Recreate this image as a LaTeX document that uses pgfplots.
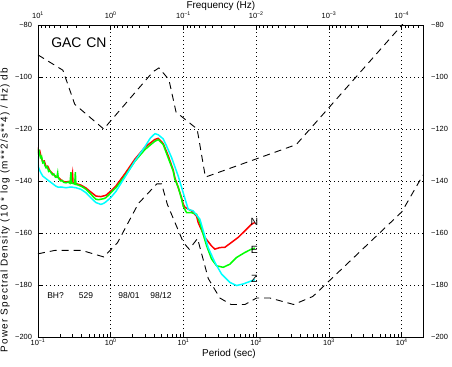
\documentclass[border=0pt]{standalone}
\usepackage{fontspec}
\setmainfont{Liberation Sans}
\newfontfamily\ylfont[LetterSpace=12]{Liberation Sans}
\usepackage{pgfplots}
\pgfplotsset{compat=1.18}
\definecolor{nred}{RGB}{255,0,0}
\definecolor{egreen}{RGB}{0,255,0}
\definecolor{zcyan}{RGB}{0,255,255}

\begin{document}
\begin{tikzpicture}
\path[use as bounding box] (-38bp,-30bp) rectangle (414bp,337bp);
\begin{axis}[
  at={(0,0)}, anchor=south west,
  scale only axis, width=385bp, height=312bp,
  xmode=log, xmin=0.1, xmax=19600, ymin=-200, ymax=-80,
  xtick={0.1,1,10,100,1000,10000},
  xticklabels={10\textsuperscript{−1},10\textsuperscript{0},10\textsuperscript{1},10\textsuperscript{2},10\textsuperscript{3},10\textsuperscript{4}},
  minor xtick={0.2,0.3,0.4,0.5,0.6,0.7,0.8,0.9,2,3,4,5,6,7,8,9,20,30,40,50,60,70,80,90,200,300,400,500,600,700,800,900,2000,3000,4000,5000,6000,7000,8000,9000},
  ytick={-200,-180,-160,-140,-120,-100,-80},
  yticklabels={−200,−180,−160,−140,−120,−100,−80},
  xtick pos=left, ytick pos=left,
  tick align=inside,
  major tick length=5bp, minor tick length=3bp,
  tick style={black, line width=0.6bp},
  grid=major,
  major grid style={black, line width=0.8bp, dash pattern=on 1bp off 3bp},
  axis line style={black, line width=0.8bp},
  tick label style={font=\fontsize{7.5}{8.5}\selectfont},
  xticklabel style={yshift=1.5bp},
  yticklabel style={xshift=-2.5bp},
  xlabel={Period (sec)},
  xlabel style={at={(axis description cs:0.496,0)}, anchor=center, yshift=-17bp, font=\fontsize{10}{12}\selectfont},
  ylabel={Power Spectral Density (10 * log (m**2/s**4) / Hz) db},
  ylabel style={at={(axis description cs:-0.0857,0.407)}, anchor=center, font=\ylfont\fontsize{10}{12}\selectfont},
  dashmodel/.style={black, line width=0.9bp, dash pattern=on 7bp off 5bp},
]
% New High Noise Model
\addplot[dashmodel] coordinates {
(0.1,-91.5) (0.22,-97.4) (0.32,-110.5) (0.8,-120.0) (3.8,-98.0) (4.6,-96.5)
(6.3,-101.0) (7.9,-113.5) (15.4,-120.0) (20,-138.5) (354.8,-126.0) (10000,-80.1) (19600,-70.7)
};
% New Low Noise Model
\addplot[dashmodel] coordinates {
(0.1,-168.0) (0.17,-166.7) (0.4,-166.7) (0.8,-169.2) (1.24,-163.7) (2.4,-148.65)
(4.3,-141.1) (5.0,-141.1) (6.0,-149.0) (10,-163.75) (12,-166.25) (15.6,-162.1)
(21.9,-177.5) (31.6,-185.0) (45,-187.5) (70,-187.5) (101,-185.0) (154,-185.0)
(328,-187.5) (600,-184.4) (10000,-151.9) (19600,-137.7)
};
% N (red)
\addplot[nred, line width=1.5bp] coordinates {
(0.1,-127.0) (0.102,-129.0) (0.106,-128.5) (0.11,-130.8) (0.116,-132.5) (0.122,-132.3)
(0.129,-134.5) (0.136,-134.3) (0.145,-136.0) (0.151,-136.5) (0.16,-137.3) (0.177,-138.3)
(0.19,-138.6) (0.207,-139.6) (0.225,-140.2) (0.2424,-140.4) (0.26,-140.2) (0.2839,-140.6)
(0.298,-137.0) (0.303,-140.6) (0.3326,-141.0) (0.3896,-141.6) (0.4563,-142.7) (0.5345,-144.3)
(0.626,-145.8) (0.7334,-146.0) (0.859,-145.5) (1.006,-143.8) (1.179,-141.9) (1.567,-137.2)
(2.149,-131.6) (2.95,-127.0) (4.047,-124.0) (4.493,-123.6) (5.262,-125.6) (6.164,-130.3)
(7.22,-135.8) (7.619,-138.8) (8.458,-142.5) (9.416,-146.5) (9.906,-148.8) (10.45,-150.1)
(12.92,-151.5) (15.13,-153.5) (15.92,-156.0) (19.68,-161.7) (24.32,-165.0) (27.0,-166.2)
(31.62,-165.6) (37.05,-165.5) (45.79,-163.6) (56.42,-161.7) (69.72,-159.2) (86.18,-156.6) (95.68,-156.0)
};
% E (green)
\addplot[egreen, line width=1.5bp] coordinates {
(0.1,-127.5) (0.102,-129.5) (0.104,-128.8) (0.108,-131.0) (0.112,-130.5) (0.116,-133.0)
(0.121,-132.6) (0.125,-134.2) (0.129,-134.9) (0.134,-134.5) (0.14,-136.3) (0.145,-136.0)
(0.151,-136.8) (0.158,-137.6) (0.165,-137.3) (0.172,-138.4) (0.177,-138.6) (0.182,-138.3)
(0.1865,-136.8) (0.19,-138.8) (0.198,-139.5) (0.207,-140.0) (0.215,-139.8) (0.225,-140.5)
(0.2424,-140.7) (0.26,-140.4) (0.275,-140.9) (0.2839,-136.6) (0.29,-140.8) (0.31,-141.0)
(0.32,-141.2) (0.326,-136.6) (0.332,-141.3) (0.36,-141.6) (0.3896,-142.0) (0.42,-142.5)
(0.4563,-143.2) (0.49,-144.0) (0.5345,-145.1) (0.58,-146.2) (0.626,-147.0) (0.68,-147.2)
(0.7334,-147.0) (0.80,-146.8) (0.859,-146.4) (0.93,-145.5) (1.006,-144.5) (1.08,-143.6)
(1.179,-142.6) (1.567,-138.1) (2.149,-132.4) (2.95,-127.9) (4.047,-124.7) (4.493,-124.1)
(5.262,-126.0) (6.164,-131.1) (7.22,-136.2) (7.619,-139.4) (8.458,-142.3) (9.416,-147.0)
(9.906,-149.7) (11.03,-152.2) (12.92,-152.2) (15.13,-152.8) (16.8,-156.0) (17.73,-158.5)
(20.77,-164.9) (24.32,-170.0) (28.5,-172.6) (35.11,-173.2) (43.39,-172.0) (53.63,-169.4)
(69.72,-167.5) (86.18,-166.2) (95.68,-165.8)
};
% Z (cyan)
\addplot[zcyan, line width=1.5bp] coordinates {
(0.1,-130.5) (0.101,-134.5) (0.104,-135.5) (0.108,-136.5) (0.116,-138.1) (0.125,-138.8)
(0.1416,-140.0) (0.155,-140.8) (0.1768,-142.0) (0.19,-142.4) (0.207,-142.3) (0.2424,-142.6)
(0.2839,-142.3) (0.3326,-142.6) (0.3896,-143.2) (0.4563,-144.5) (0.5345,-146.5) (0.626,-148.3)
(0.7334,-149.0) (0.80,-148.6) (0.859,-148.0) (1.006,-146.3) (1.179,-144.0) (1.567,-138.5)
(2.149,-132.3) (2.95,-126.8) (3.5,-123.5) (4.047,-121.8) (4.493,-122.2) (5.262,-123.8)
(5.861,-126.6) (6.864,-131.0) (8.458,-138.1) (9.906,-144.5) (11.60,-150.9) (13.59,-151.5)
(16.8,-154.7) (21.84,-165.6) (27.0,-171.3) (33.38,-175.8) (43.39,-179.0) (53.63,-180.2)
(66.11,-179.6) (86.18,-178.4) (95.68,-178.0)
};
\node[font=\fontsize{10.5}{12}\selectfont, anchor=center] at (axis cs:94.2,-155.9) {N};
\node[font=\fontsize{10.5}{12}\selectfont, anchor=center] at (axis cs:94.2,-166.6) {E};
\node[font=\fontsize{10.5}{12}\selectfont, anchor=center] at (axis cs:94.2,-177.7) {Z};
\node[font=\fontsize{14}{16}\selectfont, anchor=base west, inner sep=0pt] at (rel axis cs:0.034,0.927) {GAC\hspace{0.35em}CN};
\node[font=\fontsize{8.5}{10}\selectfont, anchor=base, inner sep=0pt] at (rel axis cs:0.0455,0.125) {BH?};
\node[font=\fontsize{8.5}{10}\selectfont, anchor=base, inner sep=0pt] at (rel axis cs:0.1247,0.125) {529};
\node[font=\fontsize{8.5}{10}\selectfont, anchor=base, inner sep=0pt] at (rel axis cs:0.2364,0.125) {98/01};
\node[font=\fontsize{8.5}{10}\selectfont, anchor=base, inner sep=0pt] at (rel axis cs:0.3195,0.125) {98/12};
\end{axis}
\begin{axis}[
  at={(0,0)}, anchor=south west,
  scale only axis, width=385bp, height=312bp,
  xmode=log, xmin=0.1, xmax=19600, ymin=-200, ymax=-80,
  xtick={0.1,1,10,100,1000,10000},
  xticklabels={10\textsuperscript{1},10\textsuperscript{0},10\textsuperscript{−1},10\textsuperscript{−2},10\textsuperscript{−3},10\textsuperscript{−4}},
  minor xtick={0.1111,0.125,0.1429,0.1667,0.2,0.25,0.3333,0.5,1.111,1.25,1.429,1.667,2,2.5,3.333,5,11.11,12.5,14.29,16.67,20,25,33.33,50,111.1,125,142.9,166.7,200,250,333.3,500,1111,1250,1429,1667,2000,2500,3333,5000,11111,12500,14286,16667},
  ytick={-200,-180,-160,-140,-120,-100,-80},
  yticklabels={−200,−180,−160,−140,−120,−100,−80},
  xtick pos=right, xticklabel pos=right, ytick pos=right, yticklabel pos=right,
  tick align=inside,
  major tick length=5bp, minor tick length=3bp,
  xtick style={black, line width=0.6bp},
  ytick style={draw=none},
  axis line style={black, line width=0.8bp},
  tick label style={font=\fontsize{7.5}{8.5}\selectfont},
  xticklabel style={yshift=3bp},
  yticklabel style={xshift=4.7bp},
  xlabel={Frequency (Hz)},
  xlabel style={at={(axis description cs:0.475,1)}, anchor=center, yshift=19.5bp, font=\fontsize{10}{12}\selectfont},
]
\end{axis}
\end{tikzpicture}
\end{document}
